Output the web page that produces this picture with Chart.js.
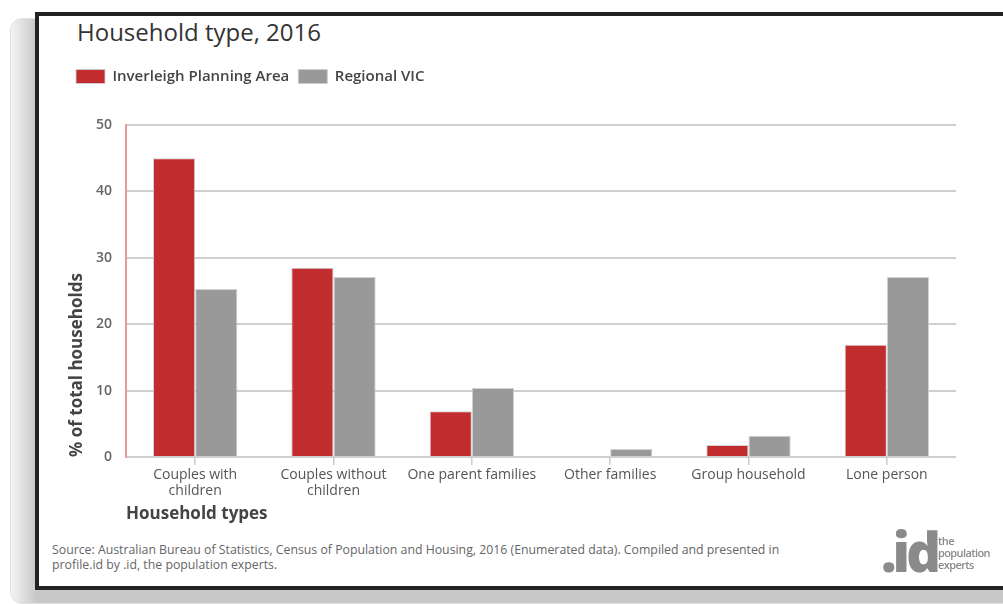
<!DOCTYPE html>
<html>
<head>
<meta charset="utf-8">
<script src="https://cdn.jsdelivr.net/npm/chart.js@4/dist/chart.umd.min.js"></script>
<style>
  html, body { margin: 0; padding: 0; width: 1003px; height: 604px; overflow: hidden; background: #fff; font-family: 'Open Sans', sans-serif; }
  #shadow { position: absolute; left: 10px; top: 18px; width: 1010px; height: 584px; border-radius: 12px;
            background: linear-gradient(to right, #f4f4f4 0px, #c8c8c8 25px, #c8c8c8 100%); border: 1px solid #e2e2e2; }
  #card { position: absolute; left: 35px; top: 12px; width: 1010px; height: 570px; background: #fff; border: 4px solid #222; }
  #title { position: absolute; left: 77px; top: 15px; font-size: 24px; font-weight: 500; color: #333; white-space: nowrap; }
  #source { position: absolute; left: 52px; top: 542px; font-size: 12.3px; line-height: 15px; color: #666; white-space: nowrap; }
  #logo { position: absolute; left: 881px; top: 521px; color: #8a8a8a; }
  #logo .big { position: absolute; left: 0; top: 0; font-size: 54px; font-weight: 800; letter-spacing: -4px; line-height: 60px; }
  #logo .small { position: absolute; left: 57px; top: 14px; font-size: 11px; line-height: 12px; font-weight: 600; letter-spacing: -0.6px; }
  #chart { position: absolute; left: 40px; top: 60px; }
</style>
</head>
<body>
<div id="shadow"></div>
<div id="card"></div>
<div id="title">Household type, 2016</div>
<canvas id="chart" width="963" height="469"></canvas>
<div id="source">Source: Australian Bureau of Statistics, Census of Population and Housing, 2016 (Enumerated data). Compiled and presented in<br>profile.id by .id, the population experts.</div>
<div id="logo"><div class="big">.id</div><div class="small">the<br>population<br>experts</div></div>
<script>
// Chart data
var categories = [['Couples with', 'children'], ['Couples without', 'children'], 'One parent families', 'Other families', 'Group household', 'Lone person'];
var inverleigh = [45.0, 28.5, 6.9, 0, 1.8, 16.9];
var regionalVic = [25.3, 27.1, 10.4, 1.2, 3.2, 27.1];
var yTicks = [0, 10, 20, 30, 40, 50];

Chart.defaults.font.family = "'Open Sans', sans-serif";

// push the plot down below the legend
var legendGap = {
    id: 'legendGap',
    beforeInit: function(chart) {
        var origFit = chart.legend.fit;
        chart.legend.fit = function() {
            origFit.bind(chart.legend)();
            this.height += 31;
        };
    }
};

var ctx = document.getElementById('chart').getContext('2d');
new Chart(ctx, {
    type: 'bar',
    data: {
        labels: categories,
        datasets: [
            { label: 'Inverleigh Planning Area', data: inverleigh, backgroundColor: '#c12d2f', borderColor: 'rgba(205,205,205,0.9)', borderWidth: 1 },
            { label: 'Regional VIC', data: regionalVic, backgroundColor: '#999999', borderColor: 'rgba(205,205,205,0.9)', borderWidth: 1 }
        ]
    },
    options: {
        responsive: false,
        animation: false,
        layout: { padding: { left: 27, right: 47, top: 0, bottom: 0 } },
        datasets: { bar: { categoryPercentage: 0.61, barPercentage: 1.0 } },
        plugins: {
            legend: {
                position: 'top',
                align: 'start',
                labels: {
                    boxWidth: 29,
                    boxHeight: 14,
                    padding: 9,
                    color: '#444',
                    font: { size: 15, weight: '600' }
                }
            },
            tooltip: { enabled: false }
        },
        scales: {
            x: {
                afterFit: function(scale) { scale.height = 72; },
                border: { display: false },
                grid: { drawOnChartArea: false, drawTicks: true, tickLength: 8, offset: false, tickColor: '#c8ccd8', lineWidth: 1.5 },
                ticks: { color: '#555', padding: 2, font: { size: 14, lineHeight: 1.15 }, maxRotation: 0 },
                title: { display: true, text: 'Household types', align: 'start', color: '#444', font: { size: 17, weight: 'bold' }, padding: { top: 0, bottom: 5 } }
            },
            y: {
                min: 0,
                max: 50,
                afterFit: function(scale) { scale.width = 59; },
                afterBuildTicks: function(scale) { scale.ticks = yTicks.map(function(v) { return { value: v }; }); },
                border: { display: true, color: '#e49d99', width: 2 },
                grid: { color: '#cfcfcf', lineWidth: 2, drawTicks: false },
                ticks: { color: '#666', padding: 14, font: { size: 14, weight: '600' } },
                title: { display: true, text: '% of total households', align: 'start', color: '#444', font: { size: 17, weight: 'bold' }, padding: { top: 0, bottom: 0 } }
            }
        }
    },
    plugins: [legendGap]
});
</script>
</body>
</html>
